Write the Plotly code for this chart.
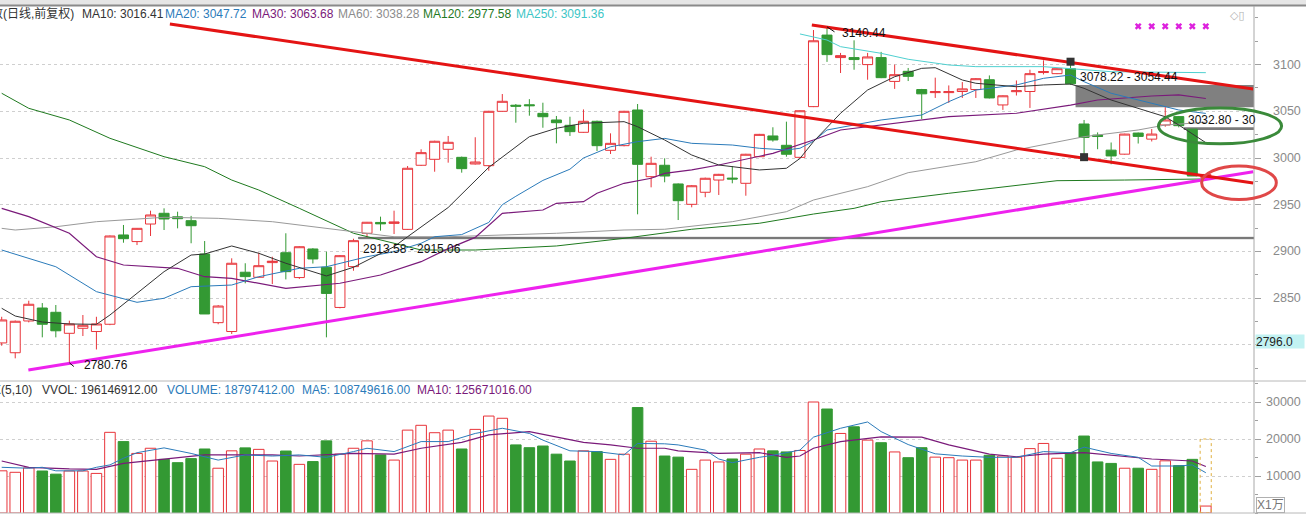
import plotly.graph_objects as go

# ------------------------------------------------------------------ data
idx = list(range(90))

opens = [2802, 2791.5, 2825.5, 2839.4, 2834.8, 2812.3, 2817.7, 2814.2, 2822, 2917.6,
         2910.5, 2929.3, 2940.8, 2937, 2932.9, 2897.2, 2823.7, 2814.2, 2877.7, 2872.3,
         2888, 2898.6, 2872, 2902.6, 2883, 2840, 2883.7, 2919.4, 2931, 2930,
         2923.6, 2992.2, 2998.6, 3009.3, 3000.7, 2993.6, 2991.8, 3050, 3056.5, 3057,
         3047.8, 3040.7, 3035, 3027.5, 3039.3, 3008.2, 3013.2, 3051.4, 2980, 2992.2,
         2972.2, 2950.4, 2963.3, 2976.4, 2978.5, 2972.9, 3001.4, 3023.6, 3013.6, 3000.7,
         3055, 3131.6, 3107.5, 3107.5, 3100, 3107.5, 3082, 3092.8, 3073.3, 3070,
         3070, 3071.2, 3073.3, 3083.8, 3056.8, 3071, 3071.2, 3091.5, 3090.3, 3095.6,
         3036.4, 3024.5, 3008.4, 3004.1, 3026.7, 3020.2, 3035.3, 3044.3, 3030.9, 2979]

highs = [2830, 2826, 2847.2, 2844.7, 2842.6, 2825.8, 2831.9, 2830, 2917, 2928.3,
         2925, 2943.6, 2946.1, 2942.5, 2938, 2911.1, 2842.5, 2892.6, 2887.3, 2898.6,
         2894.3, 2919.4, 2905.5, 2903.5, 2899.7, 2896, 2913.58, 2931.5, 2937.2, 2943.6,
         2991.4, 3009.3, 3018.5, 3023.6, 3001.5, 3022.2, 3050.5, 3068.5, 3057.8, 3063,
         3059.2, 3045, 3044.2, 3052, 3040, 3026.4, 3050.5, 3057.8, 3001.4, 2999.7,
         2972.8, 2971, 2979, 2983, 2991.4, 3004.5, 3025.8, 3032.9, 3038.9, 3051,
         3137, 3140.44, 3112.5, 3126, 3112.5, 3113.6, 3100, 3096.4, 3074, 3086,
         3077.7, 3081.3, 3085.5, 3088.4, 3067, 3083, 3094.5, 3104.6, 3096, 3104.6,
         3040.7, 3027.4, 3016.6, 3026, 3027.2, 3031, 3054.44, 3045, 3030.9, 2982.9]

lows = [2799, 2785.5, 2824, 2808, 2808, 2780.76, 2809.4, 2795, 2821, 2909.3,
        2906.8, 2916.5, 2922.9, 2924.7, 2908.7, 2833, 2822, 2811.6, 2865.8, 2872,
        2865, 2870, 2870.5, 2887, 2808, 2839, 2879.3, 2915.06, 2922.2, 2918.6,
        2923, 2991.5, 2985.3, 2995, 2984.3, 2993, 2986.4, 3049.5, 3037.8, 3045.3,
        3032.4, 3015.7, 3023.6, 3027, 3007.5, 3004.3, 3012.5, 2939.7, 2968.6, 2974,
        2933.6, 2947.2, 2958, 2960.4, 2972.9, 2959.6, 3001, 3017.5, 3001.4, 3000.2,
        3054.5, 3102.9, 3091, 3094.5, 3083.8, 3085.5, 3074, 3082.4, 3041.8, 3064.3,
        3059, 3064.3, 3064.3, 3063.8, 3051.5, 3066.9, 3053.6, 3089.5, 3089.8, 3078.22,
        2999.4, 3009.4, 2993.3, 3003.6, 3015.5, 3017.7, 3033.5, 3032.8, 2980.7, 2978.5]

closes = [2826.6, 2825.2, 2843.4, 2822, 2815, 2822.3, 2820.9, 2822.3, 2916.5, 2913.6,
          2924.7, 2939, 2934.7, 2935, 2927.5, 2833, 2841.5, 2887.3, 2873, 2884.7,
          2889.5, 2878.3, 2905, 2891.9, 2855, 2895.4, 2911.5, 2931.2, 2929.5, 2931.5,
          2989, 3005.7, 3017.9, 3016.8, 2988.6, 2995.7, 3050, 3060.7, 3055.5, 3056,
          3044.2, 3037.8, 3028.2, 3039.3, 3013.2, 3015.7, 3050, 2993.2, 2994.3, 2980.7,
          2954.3, 2970.3, 2978.3, 2982.5, 2977.5, 3004, 3025.3, 3019.3, 3004, 3050.6,
          3125.5, 3110.7, 3109.6, 3105.4, 3108.2, 3086, 3089.2, 3087.4, 3068.7, 3071,
          3071, 3074, 3084.9, 3064.3, 3066.6, 3072, 3090.3, 3092.5, 3095.6, 3079.4,
          3022, 3023, 3002.2, 3025.6, 3023.1, 3025.6, 3040.7, 3034.6, 2980.7, 2982.4]

# volume in units of 10,000 (x1万)
volumes = [11400, 11000, 12200, 11350, 10500, 11350, 11350, 10700, 21800, 19300,
           16100, 17500, 14500, 13600, 14700, 17300, 12100, 16800, 17600, 17200,
           14050, 16750, 13150, 13900, 19500, 15900, 17500, 19500, 15700, 14300,
           22400, 23700, 21700, 22400, 17300, 22600, 26200, 25600, 18400, 17650,
           18100, 15900, 14050, 16800, 16600, 14500, 15900, 28500, 19400, 15400,
           15100, 11800, 14300, 13800, 14600, 15900, 17300, 16800, 16500, 16900,
           30000, 28100, 21500, 23300, 19700, 19000, 16500, 14950, 17650, 15100,
           14950, 14300, 14300, 15600, 15400, 15050, 17400, 18800, 14800, 16300,
           20800, 13800, 13400, 12100, 12100, 11800, 14100, 12800, 14500, 1879.7412]

# moving averages (day index, value)
ma10_x = [0, 1, 3, 5, 7, 8, 10, 12, 14, 15, 17, 19, 21, 24, 26, 29, 30, 33, 36, 39, 41, 43, 46, 47,
          49, 51, 53, 56, 58, 59, 60, 62, 64, 66, 68, 69, 71, 72, 75, 77, 79, 80, 82, 84, 86, 87, 89]
ma10_v = [2839.1, 2830.8, 2824.4, 2822.3, 2821.9, 2831.9, 2855.1, 2878.3, 2896.1, 2897.2, 2905.8,
          2898, 2887.3, 2873.7, 2883, 2905, 2915.7, 2947, 2990, 3022.8, 3031.8, 3037.2, 3038.9,
          3033.5, 3019.3, 3003.2, 2992.5, 2987.2, 2989, 2999.5, 3017.5, 3047.9, 3072.8, 3087,
          3096, 3096.7, 3083.5, 3080, 3076.3, 3078.2, 3079.2, 3074.6, 3062.1, 3053.2, 3044.2,
          3035.3, 3016.41]

ma20_x = [0, 4, 7, 10, 12, 14, 17, 19, 22, 24, 27, 29, 31, 32, 34, 36, 37, 38, 40, 42, 43, 45, 47,
          49, 51, 54, 56, 58, 59, 60, 61, 65, 68, 70, 72, 75, 77, 79, 80, 82, 85, 87, 89]
ma20_v = [2901.5, 2883.6, 2856.9, 2845.5, 2849.8, 2862.2, 2864, 2872.9, 2881.9, 2883.6, 2894.3,
          2899.7, 2908.7, 2915.7, 2918, 2931, 2950, 2959, 2976, 2988, 3000, 3012, 3017.5, 3021,
          3015.7, 3013.9, 3010.4, 3008.6, 3010.4, 3018, 3030, 3040.7, 3046, 3060.3, 3072.8,
          3078.2, 3085.3, 3088.9, 3081.7, 3069.3, 3058.6, 3051.4, 3047.72]

ma30_x = [0, 2, 5, 7, 9, 13, 15, 17, 21, 25, 28, 31, 33, 35, 37, 40, 41, 43, 44, 46, 48, 49, 51,
          53, 57, 60, 62, 65, 70, 75, 79, 81, 85, 87, 89]
ma30_v = [2946.1, 2937.2, 2919.4, 2894.3, 2885.4, 2881.9, 2872.9, 2871.2, 2860.5, 2865.9, 2874.7,
          2889, 2903, 2915, 2940.8, 2944.3, 2951.5, 2953.2, 2962.2, 2972.9, 2978.3, 2983.6,
          2987.2, 2992.5, 3005, 3019.3, 3030, 3035.3, 3044.2, 3047.9, 3056.7, 3062.1, 3066.4,
          3067.5, 3063.68]

ma60_x = [0, 1, 4, 7, 12, 16, 20, 23, 27, 29, 33, 41, 46, 49, 54, 58, 60, 64, 67, 72, 75, 80,
          84, 86, 89]
ma60_v = [2924.7, 2922.9, 2926.4, 2931.8, 2936.5, 2935.4, 2931.8, 2926.4, 2919.4, 2915.7, 2915.7,
          2919.4, 2922.9, 2923.7, 2931.8, 2942.5, 2955, 2969.3, 2984.3, 2996, 3008.6, 3022.8,
          3030, 3035.3, 3038.28]

ma120_x = [0, 2, 5, 8, 12, 15, 17, 19, 22, 26, 29, 31, 35, 41, 46, 51, 56, 60, 63, 65, 70, 78,
           83, 89]
ma120_v = [3069.3, 3053.2, 3040.7, 3021.1, 3001.4, 2990.7, 2976.4, 2965.7, 2946.1, 2919.4,
           2908.7, 2901.5, 2901.5, 2905.8, 2914, 2923.7, 2930.1, 2940, 2946.1, 2953.2, 2962.2,
           2975.7, 2976.4, 2977.58]

ma250_x = [59, 61, 62, 65, 67, 70, 72, 77, 82, 89]
ma250_v = [3132.8, 3126.3, 3119.2, 3112.1, 3105.7, 3099.6, 3097.8, 3097.8, 3092.4, 3091.36]

vol_ma5_x = [0, 2, 3, 4, 6, 7, 8, 9, 10, 12, 14, 16, 18, 20, 22, 24, 26, 27, 29, 31, 33, 35, 37,
             39, 40, 42, 44, 46, 47, 49, 50, 52, 53, 54, 56, 57, 59, 60, 62, 64, 65, 67, 69,
             71, 73, 75, 77, 79, 80, 82, 84, 85, 87, 88, 89]
vol_ma5_v = [12350, 12100, 12350, 11400, 11400, 12350, 13000, 14800, 16300, 17600, 16100, 14300,
             15700, 15400, 15700, 15050, 16600, 17500, 16600, 19300, 19300, 21500, 22900, 21500,
             19700, 16800, 16600, 15700, 18800, 18700, 18400, 17000, 14600, 13600, 15050, 15600,
             17000, 20500, 22900, 24600, 22000, 18500, 16000, 15400, 15050, 15050, 16600, 16300,
             17800, 16100, 15050, 12700, 12700, 13000, 10874.9616]

vol_ma10_x = [0, 2, 5, 7, 9, 12, 15, 17, 20, 22, 24, 26, 29, 31, 34, 36, 39, 40, 43, 45, 47,
              49, 50, 53, 56, 58, 59, 60, 62, 65, 68, 70, 73, 75, 77, 80, 82, 85, 88, 89]
vol_ma10_v = [14050, 12350, 11900, 11800, 13400, 14600, 15700, 15700, 15700, 15400, 15700, 16100,
              15900, 17500, 19100, 21100, 22000, 21300, 19100, 18400, 17500, 17500, 16800, 16100,
              16300, 15050, 15400, 17500, 19300, 20600, 20500, 18400, 15900, 15200, 15900, 16300,
              15700, 14600, 14050, 12567.1016]
vvol_value = 196146912.00

# hand-drawn trend lines (day index, price)
red_long_x = [12.43, 92.5]
red_long_y = [3143.5, 2973.2]
red_short_x = [59.88, 92.5]
red_short_y = [3142.4, 3073.9]
magenta_x = [1.97, 92.5]
magenta_y = [2773.0, 2985.3]

# unfilled gaps (start day, low, high)
gaps = [(26, 2913.58, 2915.06), (79, 3054.44, 3078.22), (87, 3030.0, 3032.80)]
gap_labels = ["2913.58 - 2915.06", "3078.22 - 3054.44", "3032.80 - 30"]

price_ticks = [2800, 2850, 2900, 2950, 3000, 3050, 3100]
price_tick_text = ['', '2850', '2900', '2950', '3000', '3050', '3100']
vol_ticks = [10000, 20000, 30000]
vol_tick_text = ['10000', '20000', '30000']
marker_days = [84, 85, 86, 87, 88, 89]
cursor_price = 2796.0

# ------------------------------------------------------------------ layout constants
W, H = 1306, 518
PLOT_W = 1254
X_MIN, X_MAX = -0.126, 92.56
Y_MIN, Y_MAX = 2762.31, 3162.74
V_MIN, V_MAX = 0, 35676
MAIN_DOM = [138 / 518, 512 / 518]
VOL_DOM = [5 / 518, 137 / 518]

RED = '#e8343a'
GREEN = '#339933'
FONT = 'Liberation Sans, Arial, sans-serif'
CJK = 'Liberation Sans, Noto Sans CJK SC, sans-serif'
TICK_FONT = dict(family=FONT, size=12.5, color='#8a8a8a')


def px_x(px):
    return px / PLOT_W


def px_y(py):
    return (H - py) / H


def dx(d):
    return (d - X_MIN) / (X_MAX - X_MIN)


def dy(p):
    return MAIN_DOM[0] + (p - Y_MIN) / (Y_MAX - Y_MIN) * (MAIN_DOM[1] - MAIN_DOM[0])


fig = go.Figure()

# candles
fig.add_trace(go.Candlestick(
    x=idx, open=opens, high=highs, low=lows, close=closes,
    increasing=dict(line=dict(color=RED, width=1), fillcolor='white'),
    decreasing=dict(line=dict(color=GREEN, width=1), fillcolor=GREEN),
    whiskerwidth=0, showlegend=False, hoverinfo='skip', xaxis='x', yaxis='y'))

# moving averages
for xs, ys, col, w in [(ma120_x, ma120_v, '#1f7a1f', 1), (ma60_x, ma60_v, '#999999', 1),
                       (ma250_x, ma250_v, '#4fd0d0', 1), (ma30_x, ma30_v, '#7a1a7a', 1.2),
                       (ma20_x, ma20_v, '#2b7bba', 1), (ma10_x, ma10_v, '#333333', 1)]:
    fig.add_trace(go.Scatter(x=xs, y=ys, mode='lines', line=dict(color=col, width=w),
                             showlegend=False, hoverinfo='skip', xaxis='x', yaxis='y'))

# trend lines
for xs, ys, col in [(magenta_x, magenta_y, '#ee22ee'), (red_long_x, red_long_y, '#e41414'),
                    (red_short_x, red_short_y, '#e41414')]:
    fig.add_trace(go.Scatter(x=xs, y=ys, mode='lines', line=dict(color=col, width=3),
                             showlegend=False, hoverinfo='skip', xaxis='x', yaxis='y'))

# anchor handles of the channel lines
fig.add_trace(go.Scatter(x=[79, 80], y=[highs[79] - 1.5, lows[80] + 1.5], mode='markers',
                         marker=dict(symbol='square', size=8, color='#333333'),
                         showlegend=False, hoverinfo='skip', xaxis='x', yaxis='y'))

# magenta x markers
fig.add_trace(go.Scatter(x=marker_days, y=[3141] * len(marker_days), mode='markers',
                         marker=dict(symbol='x', size=6, color='#dd22dd', line=dict(width=0)),
                         showlegend=False, hoverinfo='skip', xaxis='x', yaxis='y'))

# volume
up = [c >= o for o, c in zip(opens, closes)]
fig.add_trace(go.Bar(x=idx, y=volumes, width=0.78,
                     marker=dict(color=['white' if u else GREEN for u in up],
                                 line=dict(color=[RED if u else GREEN for u in up], width=1)),
                     showlegend=False, hoverinfo='skip', xaxis='x2', yaxis='y2'))
fig.add_trace(go.Scatter(x=vol_ma10_x, y=vol_ma10_v, mode='lines', line=dict(color='#7a1a7a', width=1.2),
                         showlegend=False, hoverinfo='skip', xaxis='x2', yaxis='y2'))
fig.add_trace(go.Scatter(x=vol_ma5_x, y=vol_ma5_v, mode='lines', line=dict(color='#2b7bba', width=1),
                         showlegend=False, hoverinfo='skip', xaxis='x2', yaxis='y2'))

shapes = []
# gap boxes
for (d, lo, hi) in gaps:
    shapes.append(dict(type='rect', xref='x', yref='y', x0=d + 0.37, x1=X_MAX, y0=lo, y1=hi,
                       fillcolor='#7a7a7a' if d != 79 else '#808080',
                       line=dict(width=0.8 if d == 26 else 0, color='#666666'), layer='below'))
# frame lines
shapes += [
    dict(type='rect', xref='paper', yref='paper', x0=0, x1=px_x(W), y0=px_y(5), y1=px_y(0),
         fillcolor='#e6e6e6', line=dict(width=0)),
    dict(type='line', xref='paper', yref='paper', x0=0, x1=px_x(W), y0=px_y(5.5), y1=px_y(5.5),
         line=dict(color='#8a8a8a', width=2)),
    dict(type='line', xref='paper', yref='paper', x0=0, x1=px_x(W), y0=px_y(381), y1=px_y(381),
         line=dict(color='#b8b8b8', width=1)),
    dict(type='line', xref='paper', yref='paper', x0=0, x1=px_x(W), y0=px_y(513), y1=px_y(513),
         line=dict(color='#b8b8b8', width=1)),
    dict(type='line', xref='paper', yref='paper', x0=1, x1=1, y0=px_y(513), y1=px_y(6),
         line=dict(color='#a8a8a8', width=1)),
]
# highlight ellipses (centre day, centre price, half width in days, half height in price)
for (cx, cy, rx, ry, col) in [(90.05, 3034.3, 4.55, 19.1, '#3a8a3a'), (91.45, 2973.5, 2.76, 17.9, '#e04848')]:
    shapes.append(dict(type='circle', xref='paper', yref='paper', x0=dx(cx - rx), x1=dx(cx + rx),
                       y0=dy(cy - ry), y1=dy(cy + ry), line=dict(color=col, width=3)))
# dotted box around today's volume
shapes.append(dict(type='rect', xref='x2', yref='y2', x0=88.58, x1=89.4, y0=0, y1=20000,
                   line=dict(color='#e0b040', width=1, dash='dot')))
fig.update_layout(shapes=shapes)

ann = []
# right-aligned axis labels
for t, txt in zip(price_ticks, price_tick_text):
    if txt:
        ann.append(dict(xref='paper', yref='y', x=px_x(1303), y=t, xanchor='right', yanchor='middle',
                        text=txt, showarrow=False, font=TICK_FONT))
for t, txt in zip(vol_ticks, vol_tick_text):
    ann.append(dict(xref='paper', yref='y2', x=px_x(1303), y=t, xanchor='right', yanchor='middle',
                    text=txt, showarrow=False, font=TICK_FONT))

# header (main)
ann.append(dict(xref='paper', yref='paper', x=px_x(76), y=px_y(14), xanchor='right', yanchor='middle',
                text='指数(日线,前复权)', showarrow=False, font=dict(family=CJK, size=12, color='#333333')))
hdr = [('MA10', ma10_v[-1], 80, '#333333'), ('MA20', ma20_v[-1], 163, '#2b7bba'),
       ('MA30', ma30_v[-1], 250, '#7a1a7a'), ('MA60', ma60_v[-1], 336, '#8c8c8c'),
       ('MA120', ma120_v[-1], 421, '#1f7a1f'), ('MA250', ma250_v[-1], 514, '#3cc6c6')]
for name, val, px, col in hdr:
    ann.append(dict(xref='paper', yref='paper', x=px_x(px), y=px_y(14), xanchor='left', yanchor='middle',
                    text=f'{name}: {val:.2f}', showarrow=False, font=dict(family=FONT, size=12, color=col)))
# header (volume)
ann.append(dict(xref='paper', yref='paper', x=px_x(34), y=px_y(390), xanchor='right', yanchor='middle',
                text='VOL-TDX(5,10)', showarrow=False, font=dict(family=FONT, size=12, color='#333333')))
vhdr = [('VVOL', vvol_value, 40, '#333333'), ('VOLUME', volumes[-1] * 10000, 165, '#2b7bba'),
        ('MA5', vol_ma5_v[-1] * 10000, 300, '#2b7bba'), ('MA10', vol_ma10_v[-1] * 10000, 415, '#7a1a7a')]
for name, val, px, col in vhdr:
    ann.append(dict(xref='paper', yref='paper', x=px_x(px), y=px_y(390), xanchor='left', yanchor='middle',
                    text=f'{name}: {val:.2f}', showarrow=False, font=dict(family=FONT, size=12, color=col)))

# price labels
lab_font = dict(family=FONT, size=12, color='#111111')
ann.append(dict(x=61.95, y=3133.6, xref='x', yref='y', text=f'{highs[61]:.2f}', showarrow=False,
                xanchor='left', yanchor='middle', font=lab_font))
ann.append(dict(x=61, y=highs[61], xref='x', yref='y', text='', showarrow=True, ax=9, ay=6,
                arrowhead=0, arrowwidth=1, arrowcolor='#111111'))
ann.append(dict(x=5.9, y=2778.4, xref='x', yref='y', text=f'{lows[5]:.2f}', showarrow=False,
                xanchor='left', yanchor='middle', font=lab_font))
ann.append(dict(x=5, y=lows[5], xref='x', yref='y', text='', showarrow=True, ax=6, ay=5,
                arrowhead=0, arrowwidth=1, arrowcolor='#111111'))
for (d, lo, hi), txt, yoff in zip(gaps, gap_labels, [-11, 8.5, 8.0]):
    ann.append(dict(x=d + 0.55, y=(hi if yoff > 0 else lo) + yoff, xref='x', yref='y', text=txt,
                    showarrow=False, xanchor='left', yanchor='middle', font=lab_font))

# right side boxes
ann.append(dict(xref='paper', yref='y', x=px_x(1255), y=cursor_price, xanchor='left', yanchor='bottom',
                text='2796.0', showarrow=False, bgcolor='#c2f2f2', width=48, height=13, align='left',
                borderpad=0, font=dict(family=FONT, size=12, color='#222222')))
ann.append(dict(xref='paper', yref='paper', x=px_x(1256), y=px_y(505), xanchor='left', yanchor='middle',
                text='X1万', showarrow=False, bordercolor='#b0b0b0', borderwidth=1, borderpad=0,
                font=dict(family=CJK, size=12, color='#777777')))
ann.append(dict(xref='paper', yref='paper', x=px_x(1247), y=px_y(15), xanchor='right', yanchor='middle',
                text='◇▯', showarrow=False, font=dict(family='DejaVu Sans', size=11, color='#b0b0b0')))
fig.update_layout(annotations=ann)

axis_common = dict(side='right', showline=False, zeroline=False, ticks='outside', ticklen=6,
                   tickcolor='#a0a0a0', showticklabels=False,
                   showgrid=True, gridcolor='#cfcfcf', griddash='dot', gridwidth=1, automargin=False)

fig.update_layout(
    width=W, height=H, margin=dict(l=0, r=W - PLOT_W, t=0, b=0, autoexpand=False),
    paper_bgcolor='white', plot_bgcolor='white', showlegend=False,
    boxgap=0.26, boxgroupgap=0,
    xaxis=dict(domain=[0, 1], range=[X_MIN, X_MAX], visible=False, anchor='y',
               rangeslider=dict(visible=False), automargin=False),
    xaxis2=dict(domain=[0, 1], range=[X_MIN, X_MAX], visible=False, anchor='y2', matches='x',
                automargin=False),
    yaxis=dict(domain=MAIN_DOM, range=[Y_MIN, Y_MAX], anchor='x', tickvals=price_ticks,
               minor=dict(ticks='outside', ticklen=3, tickcolor='#a0a0a0', dtick=25, tick0=2775,
                          showgrid=False),
               **axis_common),
    yaxis2=dict(domain=VOL_DOM, range=[V_MIN, V_MAX], anchor='x2', tickvals=vol_ticks,
                minor=dict(ticks='outside', ticklen=3, tickcolor='#a0a0a0', dtick=5000, tick0=0,
                           showgrid=False),
                **axis_common),
)

fig.write_html('out.html', config={'displayModeBar': False})
